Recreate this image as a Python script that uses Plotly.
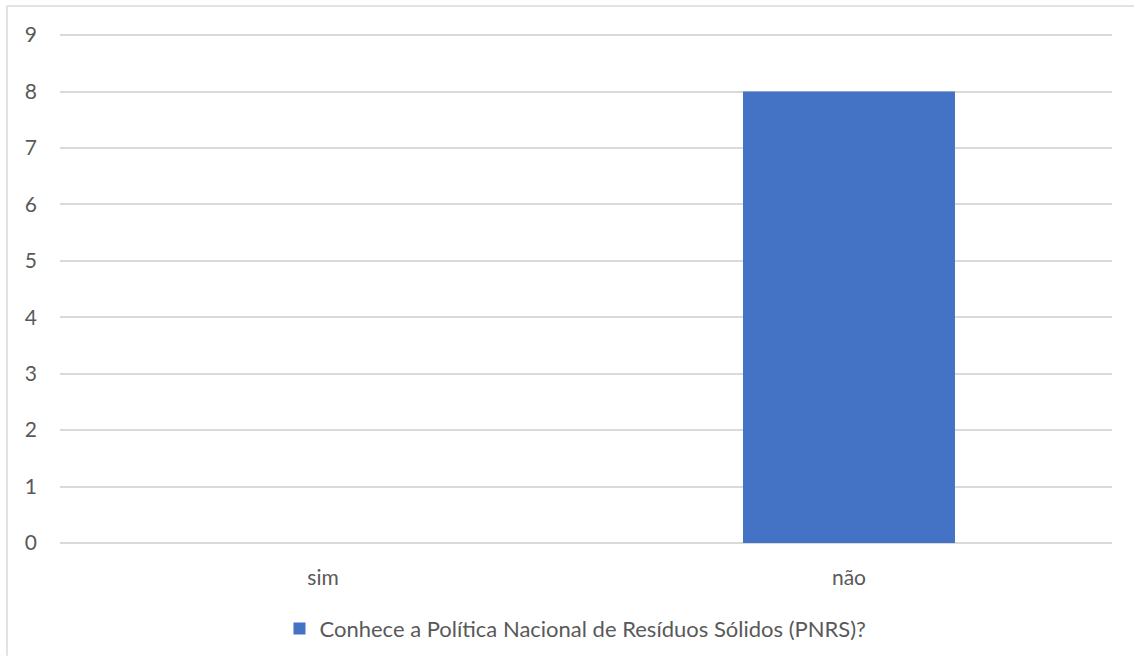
import plotly.graph_objects as go

categories = ["sim", "não"]
values = [0, 8]
series_name = "Conhece a Política Nacional de Resíduos Sólidos (PNRS)?"
y_ticks = [0, 1, 2, 3, 4, 5, 6, 7, 8, 9]

W, H = 1134, 661
L, R, T, B = 60, 22, 34, 117
PW, PH = W - L - R, H - T - B

fig = go.Figure()
fig.add_trace(go.Bar(
    x=categories, y=values, name=series_name,
    marker=dict(color="#4472C4", line=dict(width=0)),
    showlegend=True,
))

font_family = "Lato, Open Sans, sans-serif"
fs = 21
fig.update_layout(
    width=W, height=H,
    margin=dict(l=L, r=R, t=T, b=B, pad=0),
    paper_bgcolor="white", plot_bgcolor="white",
    bargap=0.597,
    font=dict(family=font_family, size=fs, color="#595959"),
    xaxis=dict(showgrid=False, showline=False, zeroline=False,
               ticks="", tickfont=dict(size=fs, color="#595959"),
               ticklabelstandoff=20),
    yaxis=dict(range=[0, 9.02], tickvals=y_ticks, showgrid=True,
               gridcolor="#d9d9d9", gridwidth=1.5, zeroline=True,
               zerolinecolor="#d9d9d9", zerolinewidth=1.5,
               showline=False, ticks="", tickfont=dict(size=fs, color="#595959"),
               ticklabelstandoff=22),
    legend=dict(orientation="h", x=0.49, xanchor="center", y=-0.166,
                yanchor="middle", font=dict(size=22, color="#595959"),
                itemwidth=30, itemsizing="constant"),
    shapes=[
        dict(type="line", xref="paper", yref="paper",
             x0=(7 - L) / PW, x1=(7 - L) / PW,
             y0=(H - B - 657) / PH, y1=(H - B - 6) / PH,
             line=dict(color="#d9d9d9", width=1.5)),
        dict(type="line", xref="paper", yref="paper",
             x0=(7 - L) / PW, x1=(W + 5 - L) / PW,
             y0=(H - B - 6) / PH, y1=(H - B - 6) / PH,
             line=dict(color="#d9d9d9", width=1.5)),
    ],
)

fig.write_html("out.html")
